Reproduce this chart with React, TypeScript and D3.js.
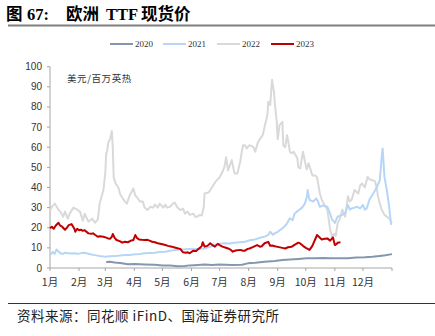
import React from "react";
import * as d3 from "d3";

// [day of year, USD/MMBtu]
const s2020: [number, number][] = [
  [60, 3], [64, 3.1], [69, 2.7], [75, 2.5], [83, 1.9], [91, 2], [101, 1.8], [112, 1.6], [120, 1.3],
  [128, 1.2], [137, 0.9], [144, 1], [149, 1.3], [158, 1.5], [165, 1.7], [173, 1.5], [181, 1.7],
  [194, 1.5], [205, 1.6], [211, 2.3], [219, 2.6], [229, 3.1], [240, 3.5], [248, 4], [256, 4.2],
  [265, 4.5], [274, 4.8], [283, 4.8], [291, 5], [301, 4.8], [309, 4.9], [318, 4.8], [327, 5.2],
  [336, 5.3], [344, 5.6], [352, 6], [358, 6.3], [365, 6.9],
];

const s2021: [number, number][] = [
  [0, 6.4], [3, 8], [5, 7], [7, 9.2], [11, 7.3], [14, 7], [16, 7.6], [21, 7.2], [27, 7.3], [30, 7],
  [34, 7.5], [37, 7.6], [43, 6.8], [48, 6.4], [53, 6], [59, 5.6], [64, 5.8], [69, 5.9], [75, 6.2],
  [80, 6.4], [85, 6.5], [91, 6.8], [96, 7], [101, 7.3], [107, 7.5], [112, 7.6], [117, 8], [123, 8.1],
  [128, 8.6], [133, 9], [139, 9.2], [144, 9.3], [149, 9.5], [155, 9.3], [160, 9.6], [165, 9.7],
  [171, 10.5], [176, 11.4], [181, 12], [187, 12.3], [192, 12.2], [197, 12.6], [203, 12.8], [208, 13],
  [213, 13.8], [219, 14.2], [224, 15], [229, 15.6], [233, 16.5], [235, 18], [238, 16.5], [240, 17.2],
  [243, 18], [248, 19.7], [251, 21], [253, 22.2], [256, 24.7], [259, 23.8], [261, 27], [265, 28.6],
  [269, 30], [272, 32], [274, 35], [275, 38.7], [276, 36], [277, 33.8], [281, 33], [284, 34.6],
  [286, 33], [288, 30.4], [291, 31], [296, 30.4], [299, 27], [301, 24], [304, 22.4], [307, 25.5],
  [312, 26.4], [315, 27.2], [318, 31.3], [320, 29], [322, 29.6], [325, 30], [328, 30.4], [331, 29.6],
  [334, 31.3], [336, 29], [338, 29.6], [341, 34], [345, 37], [349, 40.3], [352, 43.7], [354, 55],
  [355, 59.4], [357, 45], [359, 40], [360, 37], [362, 30.4], [364, 21.4],
];

const s2022: [number, number][] = [
  [0, 28.5], [3, 31], [5, 32], [9, 29], [11, 28], [14, 25.5], [16, 28], [19, 24.5], [21, 27], [25, 30],
  [29, 29], [32, 28], [35, 23.5], [37, 27], [41, 23], [45, 24.5], [48, 22.5], [51, 24], [53, 32],
  [57, 38.7], [59, 47], [60, 57], [61, 58], [62, 62], [64, 64], [66, 68], [67, 60], [68, 45], [70, 42],
  [73, 40], [75, 36.5], [77, 35], [80, 33], [82, 32], [85, 36], [89, 39.5], [91, 36], [93, 35],
  [96, 33], [99, 33], [101, 30], [104, 28.8], [107, 30.4], [110, 30], [112, 31.5], [115, 30],
  [117, 32], [121, 30], [123, 31.5], [125, 30], [128, 30.4], [131, 32], [133, 32.5], [136, 30],
  [139, 28.8], [142, 29.5], [144, 27], [147, 28], [149, 26.4], [153, 27], [155, 25.5], [157, 25.5],
  [160, 26.4], [162, 26], [164, 30], [165, 37], [169, 37.5], [171, 38.7], [174, 41], [177, 43],
  [181, 45], [184, 47.8], [186, 50], [188, 55], [190, 48.5], [192, 51], [194, 53.6], [196, 49],
  [197, 47], [200, 47], [203, 52.8], [205, 58.6], [206, 61], [208, 61], [210, 59.4], [213, 61],
  [217, 60], [219, 57.8], [222, 62.6], [224, 64], [227, 66], [229, 70], [232, 76], [233, 82.6],
  [235, 81], [237, 93.5], [239, 87.5], [240, 81.7], [242, 72.6], [243, 64], [245, 71], [248, 72.6],
  [249, 61], [251, 60], [253, 66], [254, 63.5], [256, 57.8], [258, 57], [260, 57.8], [264, 54.5],
  [265, 50], [267, 49.5], [270, 57.8], [272, 53], [274, 49], [276, 52], [280, 46], [283, 46],
  [285, 45], [288, 37], [290, 34], [292, 32], [296, 29], [299, 19], [301, 15.7], [303, 17],
  [305, 16], [307, 22.4], [309, 24], [312, 29], [315, 25.5], [318, 35.6], [320, 33], [322, 34],
  [325, 38.7], [329, 37], [331, 41], [333, 42], [336, 40], [339, 45.3], [341, 44], [344, 43.7],
  [347, 43], [349, 39], [350, 35.6], [352, 32], [354, 29], [357, 26.4], [361, 25], [363, 24],
  [365, 22.4],
];

const s2023: [number, number][] = [
  [0, 19.7], [2, 20.5], [4, 19.5], [6, 21], [9, 22.5], [11, 21], [13, 20.5], [15, 19.5], [16, 19],
  [18, 20], [20, 21.3], [23, 21.8], [26, 19.5], [27, 18], [29, 19.5], [31, 18.8], [33, 19], [35, 18.5],
  [37, 18.8], [41, 17.2], [44, 17], [46, 17.2], [48, 16.5], [51, 15.5], [53, 15.8], [57, 15.5],
  [60, 15.1], [62, 14.7], [64, 14.5], [66, 15.5], [67, 16.9], [69, 15], [71, 13.9], [75, 13.2],
  [77, 12.6], [80, 13], [83, 12.8], [86, 13.5], [89, 13.9], [91, 16.4], [93, 14.8], [95, 14.2],
  [98, 14], [101, 13.9], [104, 14], [107, 13.5], [109, 13], [112, 12.8], [115, 12.3], [120, 11.8],
  [123, 11.4], [126, 11], [130, 10.6], [133, 10.2], [137, 9.7], [139, 9.5], [142, 7.8], [145, 7.6],
  [147, 7.8], [149, 7.3], [153, 8.6], [156, 8.5], [158, 9.3], [160, 10], [162, 11], [163, 12.8],
  [165, 10.6], [168, 11], [171, 12.3], [173, 11.5], [176, 10.6], [179, 12], [181, 11.4], [184, 10.6],
  [187, 10.2], [190, 9.7], [193, 9], [195, 8.1], [198, 8.7], [203, 9], [206, 8.6], [208, 8.6],
  [211, 9.5], [213, 9.7], [217, 10.5], [221, 11.4], [224, 10.6], [226, 10.8], [229, 12.3], [233, 13],
  [235, 11], [237, 11.2], [240, 10.8], [243, 10.5], [248, 10], [251, 9.7], [254, 10.3], [258, 10.6],
  [261, 11.5], [265, 12.6], [267, 12.2], [270, 11], [273, 10], [277, 9], [280, 11], [285, 16.4],
  [287, 15.5], [290, 14.2], [293, 14.5], [296, 14.7], [299, 13.6], [302, 15.2], [304, 11.4],
  [306, 12], [307, 12.6], [310, 12.8],
];

const monthStarts = [0, 31, 59, 90, 120, 151, 181, 212, 243, 273, 304, 334, 365];
const monthLabels = ["1月", "2月", "3月", "4月", "5月", "6月", "7月", "8月", "9月", "10月", "11月", "12月"];
const yTicks = [0, 10, 20, 30, 40, 50, 60, 70, 80, 90, 100];

const seriesNames = ["2020", "2021", "2022", "2023"];
const seriesColors = ["#8497b0", "#b7d6f7", "#d9d9d9", "#c00000"];
const seriesData = [s2020, s2021, s2022, s2023];
const drawOrder = [2, 1, 0, 3];

const titleParts = ["图", "67:", "欧洲", "TTF", "现货价"];
const titleX = [6, 27, 66, 106, 141];

const serif = "'Liberation Serif', 'Noto Sans CJK SC', serif";
const cjk = "'Noto Sans CJK SC', 'Liberation Serif', serif";
const sans = "'Liberation Sans', Arial, sans-serif";

export default function App() {
  const W = 435, H = 336;
  const x = d3.scaleLinear().domain([0, 365]).range([50, 392]);
  const y = d3.scaleLinear().domain([0, 100]).range([268, 66.7]);
  const line = d3
    .line<[number, number]>()
    .x((d) => x(d[0]))
    .y((d) => y(d[1]));

  const legendX = [110, 163, 217, 271];

  return (
    <svg
      width={W}
      height={H}
      style={{ position: "absolute", left: 0, top: 0, background: "#fff" }}
    >
      <rect width={W} height={H} fill="#fff" />
      {titleParts.map((t, i) => (
        <text key={t} x={titleX[i]} y={20} fontFamily={serif} fontWeight="bold" fontSize={16.5} fill="#000">
          {t}
        </text>
      ))}
      <line x1={8} x2={435} y1={25.5} y2={25.5} stroke="#7f7f7f" strokeWidth={2} />

      {seriesNames.map((n, i) => (
        <g key={n}>
          <line
            x1={legendX[i]}
            x2={legendX[i] + 23}
            y1={44}
            y2={44}
            stroke={seriesColors[i]}
            strokeWidth={2}
          />
          <text x={legendX[i] + 25} y={47} fontFamily={serif} fontSize={9} fill="#333">
            {n}
          </text>
        </g>
      ))}

      {/* y axis */}
      <line x1={50} x2={50} y1={y(100)} y2={268} stroke="#a6a6a6" strokeWidth={1} />
      {yTicks.map((t) => (
        <g key={t}>
          <line x1={47} x2={50} y1={y(t)} y2={y(t)} stroke="#a6a6a6" />
          <text
            x={42}
            y={y(t) + 3.5}
            textAnchor="end"
            fontFamily={sans}
            fontSize={10}
            fill="#333"
          >
            {t}
          </text>
        </g>
      ))}

      {/* x axis */}
      <line x1={50} x2={392} y1={268} y2={268} stroke="#a6a6a6" strokeWidth={1} />
      {monthStarts.map((d) => (
        <line key={d} x1={x(d)} x2={x(d)} y1={268} y2={271} stroke="#a6a6a6" />
      ))}
      {monthLabels.map((l, i) => (
        <text
          key={l}
          x={x(monthStarts[i])}
          y={286}
          textAnchor="middle"
          fontFamily={cjk}
          fontSize={10.5}
          fill="#333"
        >
          {l}
        </text>
      ))}

      {drawOrder.map((i) => (
        <path
          key={seriesNames[i]}
          d={line(seriesData[i]) || ""}
          fill="none"
          stroke={seriesColors[i]}
          strokeWidth={2}
          strokeLinejoin="round"
        />
      ))}

      <text x={67} y={82} fontFamily={cjk} fontSize={9.5} letterSpacing={0.6} fill="#333">
        美元/百万英热
      </text>

      <line x1={8} x2={435} y1={303.5} y2={303.5} stroke="#333" strokeWidth={1.2} />
      <text x={17} y={321} fontFamily={cjk} fontSize={13.5} letterSpacing={0.5} fill="#222">
        资料来源：同花顺 iFinD、国海证券研究所
      </text>
    </svg>
  );
}
